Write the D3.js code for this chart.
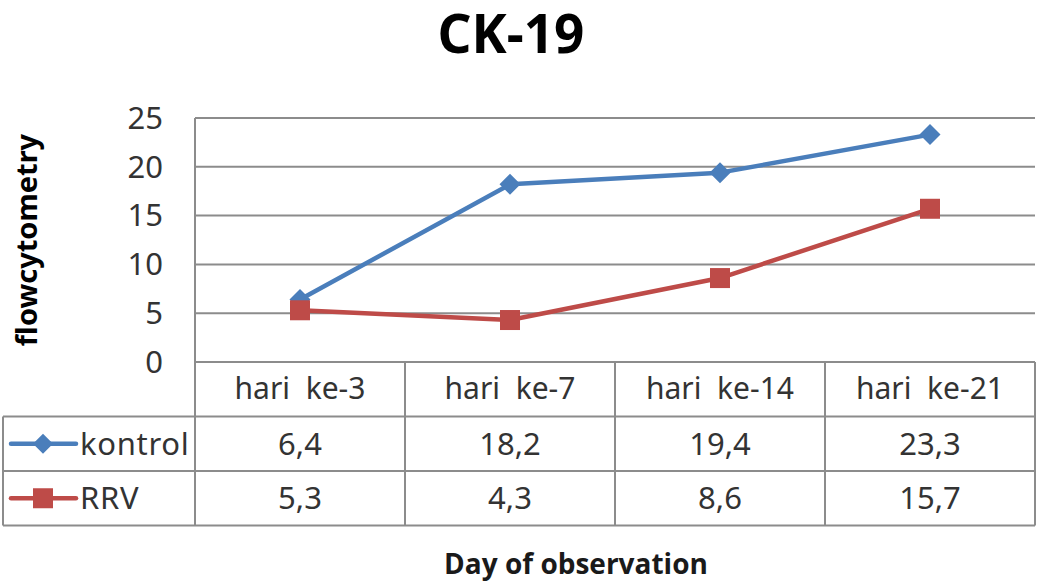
<!DOCTYPE html>
<html><head><meta charset="utf-8">
<script src="https://cdn.jsdelivr.net/npm/d3@7"></script>
<style>body{margin:0;background:#fff}svg{display:block}</style>
</head><body>
<script>
const categories = ["hari  ke-3", "hari  ke-7", "hari  ke-14", "hari  ke-21"];
const kontrol = [6.4, 18.2, 19.4, 23.3];
const rrv = [5.3, 4.3, 8.6, 15.7];
const yTicks = [0, 5, 10, 15, 20, 25];
const seriesNames = ["kontrol", "RRV"];

(function () {
const W = 1037, H = 582;
const svg = d3.select("body").append("svg").attr("width", W).attr("height", H);
const pLeft = 195, pRight = 1035, pTop = 118, pBottom = 362;
const rowH = 54.5;
const font = "'Noto Sans', 'Open Sans', sans-serif";
const fs = 30;

const x = d3.scaleBand().domain(categories).range([pLeft, pRight]);
const y = d3.scaleLinear().domain([0, 25]).range([pBottom, pTop]);
const grid = "#8c8c8c";

svg.append("g").selectAll("line").data(yTicks).join("line")
  .attr("x1", pLeft).attr("x2", pRight).attr("y1", d => y(d)).attr("y2", d => y(d))
  .attr("stroke", grid).attr("stroke-width", 2);
svg.append("line").attr("x1", pLeft).attr("x2", pLeft).attr("y1", pTop).attr("y2", pBottom + rowH * 3)
  .attr("stroke", grid).attr("stroke-width", 2);

const yAxis = d3.axisLeft(y).tickValues(yTicks).tickSize(0).tickPadding(0);
const ga = svg.append("g").attr("transform", `translate(${pLeft - 32},0)`).call(yAxis);
ga.select(".domain").remove();
ga.selectAll("text").attr("font-family", font).attr("font-size", 31).attr("fill", "#333").attr("dy", "0.33em");

const tableTop = pBottom;
const hl = [
  {x1: pLeft, y: tableTop},
  {x1: 3, y: tableTop + rowH},
  {x1: 3, y: tableTop + rowH * 2},
  {x1: 3, y: tableTop + rowH * 3}
];
svg.append("g").selectAll("line").data(hl).join("line")
  .attr("x1", d => d.x1).attr("x2", pRight).attr("y1", d => d.y).attr("y2", d => d.y)
  .attr("stroke", grid).attr("stroke-width", 2);
const vx = categories.map(c => x(c) + x.bandwidth());
svg.append("g").selectAll("line").data(vx).join("line")
  .attr("x1", d => d).attr("x2", d => d).attr("y1", tableTop).attr("y2", tableTop + rowH * 3)
  .attr("stroke", grid).attr("stroke-width", 2);
svg.append("line").attr("x1", 3).attr("x2", 3).attr("y1", tableTop + rowH).attr("y2", tableTop + rowH * 3)
  .attr("stroke", grid).attr("stroke-width", 2);

svg.append("g").selectAll("text").data(categories).join("text")
  .attr("x", d => x(d) + x.bandwidth() / 2).attr("y", tableTop + rowH / 2 + 10)
  .attr("text-anchor", "middle").attr("font-family", font).attr("font-size", fs).attr("fill", "#333")
  .style("white-space", "pre").text(d => d);

const fmt = v => String(v).replace(".", ",");
[kontrol, rrv].forEach((arr, i) => {
  svg.append("g").selectAll("text").data(arr).join("text")
    .attr("x", (d, j) => x(categories[j]) + x.bandwidth() / 2)
    .attr("y", tableTop + rowH * (i + 1) + rowH / 2 + 11)
    .attr("text-anchor", "middle").attr("font-family", font).attr("font-size", 31).attr("fill", "#333")
    .text(d => fmt(d));
});

const colors = ["#4a7ebb", "#be4b48"];
const line = d3.line().x((d, i) => x(categories[i]) + x.bandwidth() / 2).y(d => y(d));
[kontrol, rrv].forEach((arr, i) => {
  svg.append("path").datum(arr).attr("d", line).attr("fill", "none")
    .attr("stroke", colors[i]).attr("stroke-width", 4.5).attr("stroke-linejoin", "round");
  const g = svg.append("g");
  arr.forEach((v, j) => {
    const cx = x(categories[j]) + x.bandwidth() / 2, cy = y(v);
    if (i === 0) {
      g.append("path").attr("d", "M0,-10.5L10.5,0L0,10.5L-10.5,0Z").attr("transform", `translate(${cx},${cy})`).attr("fill", colors[0]);
    } else {
      g.append("rect").attr("x", cx - 10).attr("y", cy - 10).attr("width", 20).attr("height", 20).attr("fill", colors[1]);
    }
  });
});

seriesNames.forEach((name, i) => {
  const cy = tableTop + rowH * (i + 1) + rowH / 2;
  svg.append("line").attr("x1", 11).attr("x2", 76).attr("y1", cy).attr("y2", cy)
    .attr("stroke", colors[i]).attr("stroke-width", 4.5).attr("stroke-linecap", "round");
  if (i === 0) {
    svg.append("path").attr("d", "M0,-10L10,0L0,10L-10,0Z").attr("transform", `translate(43,${cy})`).attr("fill", colors[0]);
  } else {
    svg.append("rect").attr("x", 33).attr("y", cy - 10).attr("width", 20).attr("height", 20).attr("fill", colors[1]);
  }
  svg.append("text").attr("x", 80).attr("y", cy + 11).attr("font-family", font).attr("font-size", 31)
    .attr("fill", "#333").attr("letter-spacing", 0.7).text(name);
});

svg.append("text").attr("x", 511).attr("y", 53).attr("text-anchor", "middle")
  .attr("font-family", font).attr("font-weight", "bold").attr("font-size", 53).attr("fill", "#000").text("CK-19");
svg.append("text").attr("transform", "translate(37,240) rotate(-90)").attr("text-anchor", "middle")
  .attr("font-family", font).attr("font-weight", "bold").attr("font-size", 29).attr("fill", "#000").text("flowcytometry");
svg.append("text").attr("x", 576).attr("y", 574).attr("text-anchor", "middle")
  .attr("font-family", "'Open Sans', sans-serif").attr("font-weight", "bold").attr("font-size", 28).attr("fill", "#1a1a1a").text("Day of observation");
})();
</script>
</body></html>
